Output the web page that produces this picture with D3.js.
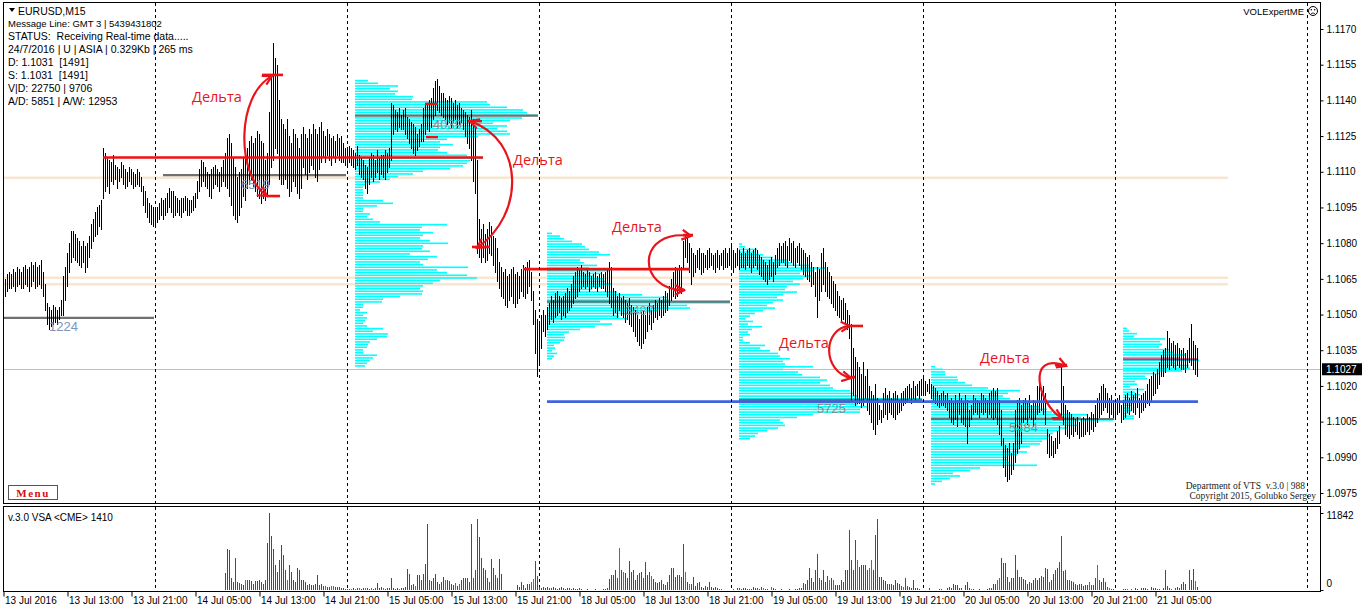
<!DOCTYPE html>
<html><head><meta charset="utf-8">
<script src="https://cdn.jsdelivr.net/npm/d3@7"></script>
<style>body{margin:0;background:#fff;}svg{display:block;font-family:"Liberation Sans",Arial,sans-serif;}text{white-space:pre;}</style>
</head><body><svg id="c" width="1362" height="612"></svg>
<script>
// ---------- DATA ----------
const timeLabels = ["13 Jul 2016","13 Jul 13:00","13 Jul 21:00","14 Jul 05:00","14 Jul 13:00","14 Jul 21:00","15 Jul 05:00","15 Jul 13:00","15 Jul 21:00","18 Jul 05:00","18 Jul 13:00","18 Jul 21:00","19 Jul 05:00","19 Jul 13:00","19 Jul 21:00","20 Jul 05:00","20 Jul 13:00","20 Jul 21:00","21 Jul 05:00"];
const timeLabelBars = [0,32,64,96,128,160,192,224,256,288,320,352,384,416,448,480,512,544,576];
const priceTicks = [1.0975,1.0990,1.1005,1.1020,1.1035,1.1050,1.1065,1.1080,1.1095,1.1110,1.1125,1.1140,1.1155,1.1170];
const lastPrice = 1.1027;
const volumeTicks = [0, 11842];
const daySeparators = [76,172,268,364,460,556,652];

const highs = [
1.1066,1.1065,1.1067,1.1068,1.1067,1.1069,1.1068,1.1070,1.1069,1.1068,
1.1070,1.1071,1.1069,1.1070,1.1072,1.1071,1.1072,1.1070,1.1071,1.1073,
1.1068,1.1063,1.1055,1.1053,1.1052,1.1054,1.1053,1.1052,1.1053,1.1056,
1.1066,1.1070,1.1076,1.1080,1.1085,1.1085,1.1084,1.1082,1.1081,1.1079,
1.1081,1.1079,1.1080,1.1083,1.1088,1.1090,1.1093,1.1095,1.1096,1.1098,
1.1120,1.1118,1.1116,1.1115,1.1114,1.1117,1.1113,1.1112,1.1111,1.1114,
1.1113,1.1111,1.1110,1.1112,1.1111,1.1110,1.1109,1.1111,1.1110,1.1108,
1.1104,1.1102,1.1099,1.1097,1.1096,1.1095,1.1094,1.1095,1.1097,1.1099,
1.1098,1.1099,1.1101,1.1103,1.1102,1.1102,1.1100,1.1099,1.1098,1.1099,
1.1099,1.1100,1.1099,1.1098,1.1098,1.1100,1.1101,1.1106,1.1111,1.1115,
1.1114,1.1112,1.1110,1.1109,1.1111,1.1112,1.1113,1.1111,1.1110,1.1112,
1.1115,1.1118,1.1124,1.1126,1.1122,1.1116,1.1112,1.1108,1.1110,1.1111,
1.1116,1.1118,1.1120,1.1123,1.1125,1.1122,1.1124,1.1127,1.1126,1.1123,
1.1122,1.1115,1.1118,1.1135,1.1150,1.1164,1.1158,1.1155,1.1140,1.1132,
1.1130,1.1128,1.1132,1.1125,1.1122,1.1128,1.1126,1.1124,1.1120,1.1126,
1.1129,1.1126,1.1124,1.1128,1.1126,1.1130,1.1128,1.1126,1.1129,1.1131,
1.1127,1.1125,1.1128,1.1126,1.1124,1.1125,1.1123,1.1126,1.1124,1.1125,
1.1122,1.1120,1.1119,1.1121,1.1120,1.1119,1.1118,1.1121,1.1117,1.1116,
1.1115,1.1113,1.1112,1.1116,1.1118,1.1117,1.1115,1.1119,1.1116,1.1117,
1.1117,1.1119,1.1118,1.1120,1.1139,1.1138,1.1136,1.1135,1.1137,1.1134,
1.1136,1.1137,1.1133,1.1132,1.1131,1.1130,1.1129,1.1126,1.1128,1.1130,
1.1137,1.1139,1.1138,1.1140,1.1141,1.1145,1.1148,1.1149,1.1146,1.1143,
1.1143,1.1141,1.1140,1.1142,1.1141,1.1139,1.1140,1.1138,1.1139,1.1137,
1.1136,1.1135,1.1134,1.1133,1.1136,1.1132,1.1129,1.1115,1.1090,1.1086,
1.1088,1.1084,1.1086,1.1089,1.1087,1.1083,1.1082,1.1078,1.1072,1.1070,
1.1068,1.1069,1.1066,1.1067,1.1069,1.1070,1.1067,1.1068,1.1066,1.1069,
1.1071,1.1070,1.1072,1.1073,1.1068,1.1060,1.1052,1.1048,1.1046,1.1050,
1.1052,1.1050,1.1053,1.1055,1.1058,1.1056,1.1059,1.1060,1.1058,1.1057,
1.1058,1.1059,1.1061,1.1060,1.1063,1.1066,1.1068,1.1070,1.1069,1.1071,
1.1068,1.1067,1.1069,1.1068,1.1066,1.1067,1.1068,1.1066,1.1067,1.1068,
1.1067,1.1068,1.1069,1.1072,1.1070,1.1061,1.1060,1.1058,1.1059,1.1057,
1.1058,1.1056,1.1055,1.1057,1.1054,1.1053,1.1052,1.1050,1.1048,1.1051,
1.1052,1.1050,1.1053,1.1055,1.1052,1.1054,1.1056,1.1055,1.1057,1.1056,
1.1058,1.1060,1.1059,1.1062,1.1065,1.1068,1.1070,1.1069,1.1071,1.1070,
1.1081,1.1083,1.1082,1.1080,1.1078,1.1076,1.1075,1.1077,1.1078,1.1076,
1.1076,1.1075,1.1077,1.1078,1.1076,1.1075,1.1076,1.1077,1.1075,1.1076,
1.1077,1.1078,1.1076,1.1078,1.1079,1.1077,1.1076,1.1078,1.1077,1.1076,
1.1078,1.1076,1.1077,1.1078,1.1076,1.1077,1.1078,1.1077,1.1075,1.1074,
1.1073,1.1072,1.1071,1.1073,1.1074,1.1072,1.1075,1.1078,1.1080,1.1079,
1.1080,1.1081,1.1079,1.1082,1.1080,1.1081,1.1078,1.1079,1.1080,1.1078,
1.1077,1.1076,1.1074,1.1075,1.1072,1.1070,1.1068,1.1070,1.1069,1.1076,
1.1078,1.1072,1.1070,1.1068,1.1066,1.1064,1.1063,1.1060,1.1058,1.1056,
1.1057,1.1055,1.1052,1.1050,1.1046,1.1036,1.1032,1.1030,1.1028,1.1025,
1.1030,1.1024,1.1027,1.1020,1.1018,1.1016,1.1021,1.1015,1.1012,1.1010,
1.1017,1.1019,1.1016,1.1018,1.1015,1.1017,1.1018,1.1016,1.1014,1.1017,
1.1018,1.1019,1.1020,1.1021,1.1019,1.1022,1.1020,1.1021,1.1022,1.1023,
1.1024,1.1022,1.1021,1.1023,1.1021,1.1020,1.1019,1.1018,1.1016,1.1017,
1.1018,1.1016,1.1017,1.1014,1.1015,1.1013,1.1016,1.1014,1.1017,1.1015,
1.1013,1.1016,1.1014,1.1010,1.1012,1.1016,1.1015,1.1014,1.1013,1.1017,
1.1016,1.1015,1.1014,1.1017,1.1018,1.1019,1.1018,1.1019,1.1014,1.1010,
1.0998,1.0995,1.0994,1.0996,1.0992,1.0996,1.1010,1.1014,1.1015,1.1012,
1.1014,1.1015,1.1013,1.1016,1.1012,1.1014,1.1013,1.1020,1.1021,1.1019,
1.1020,1.1017,1.1002,1.1000,1.0999,1.0997,1.0998,1.1001,1.1003,1.1028,
1.1020,1.1012,1.1010,1.1009,1.1008,1.1007,1.1006,1.1007,1.1005,1.1006,
1.1007,1.1006,1.1008,1.1007,1.1009,1.1008,1.1012,1.1015,1.1017,1.1020,
1.1021,1.1019,1.1017,1.1015,1.1016,1.1014,1.1013,1.1015,1.1016,1.1012,
1.1014,1.1016,1.1017,1.1015,1.1018,1.1016,1.1017,1.1019,1.1015,1.1016,
1.1017,1.1018,1.1021,1.1023,1.1024,1.1026,1.1025,1.1027,1.1030,1.1033,
1.1035,1.1036,1.1043,1.1040,1.1038,1.1039,1.1037,1.1038,1.1036,1.1035,
1.1036,1.1034,1.1035,1.1040,1.1046,1.1039,1.1037,1.1036];

const lows = [
1.1057,1.1058,1.1060,1.1061,1.1061,1.1062,1.1060,1.1062,1.1063,1.1061,
1.1061,1.1063,1.1062,1.1060,1.1062,1.1064,1.1061,1.1062,1.1063,1.1061,
1.1058,1.1052,1.1046,1.1044,1.1045,1.1046,1.1047,1.1046,1.1048,1.1050,
1.1050,1.1056,1.1062,1.1068,1.1072,1.1074,1.1073,1.1072,1.1071,1.1070,
1.1072,1.1068,1.1070,1.1074,1.1078,1.1081,1.1083,1.1084,1.1087,1.1086,
1.1099,1.1102,1.1104,1.1101,1.1106,1.1105,1.1107,1.1103,1.1106,1.1108,
1.1105,1.1103,1.1104,1.1106,1.1105,1.1103,1.1104,1.1105,1.1104,1.1102,
1.1096,1.1093,1.1091,1.1089,1.1088,1.1087,1.1088,1.1089,1.1090,1.1092,
1.1090,1.1092,1.1093,1.1095,1.1093,1.1091,1.1092,1.1093,1.1092,1.1091,
1.1093,1.1094,1.1092,1.1092,1.1093,1.1094,1.1095,1.1099,1.1102,1.1104,
1.1106,1.1104,1.1103,1.1100,1.1099,1.1103,1.1105,1.1104,1.1102,1.1104,
1.1106,1.1104,1.1103,1.1100,1.1096,1.1092,1.1090,1.1089,1.1092,1.1095,
1.1100,1.1098,1.1103,1.1105,1.1107,1.1104,1.1102,1.1100,1.1099,1.1097,
1.1099,1.1098,1.1100,1.1105,1.1112,1.1115,1.1120,1.1118,1.1107,1.1105,
1.1105,1.1107,1.1103,1.1100,1.1102,1.1106,1.1104,1.1101,1.1099,1.1103,
1.1112,1.1109,1.1107,1.1110,1.1113,1.1111,1.1108,1.1106,1.1111,1.1114,
1.1116,1.1114,1.1117,1.1115,1.1113,1.1116,1.1114,1.1117,1.1115,1.1114,
1.1114,1.1113,1.1112,1.1114,1.1113,1.1112,1.1111,1.1113,1.1109,1.1108,
1.1107,1.1103,1.1101,1.1105,1.1108,1.1106,1.1108,1.1110,1.1107,1.1109,
1.1108,1.1107,1.1110,1.1112,1.1115,1.1126,1.1128,1.1127,1.1129,1.1128,
1.1128,1.1126,1.1124,1.1122,1.1120,1.1118,1.1117,1.1119,1.1121,1.1123,
1.1123,1.1126,1.1128,1.1127,1.1129,1.1132,1.1134,1.1136,1.1135,1.1134,
1.1133,1.1132,1.1130,1.1131,1.1129,1.1131,1.1132,1.1129,1.1130,1.1131,
1.1128,1.1125,1.1122,1.1120,1.1115,1.1106,1.1101,1.1076,1.1074,1.1072,
1.1074,1.1072,1.1073,1.1076,1.1075,1.1071,1.1068,1.1064,1.1061,1.1058,
1.1057,1.1054,1.1053,1.1056,1.1058,1.1055,1.1053,1.1055,1.1057,1.1060,
1.1058,1.1057,1.1059,1.1062,1.1056,1.1046,1.1034,1.1024,1.1030,1.1036,
1.1043,1.1041,1.1044,1.1046,1.1048,1.1047,1.1049,1.1050,1.1051,1.1048,
1.1050,1.1049,1.1051,1.1052,1.1053,1.1055,1.1057,1.1058,1.1060,1.1061,
1.1062,1.1061,1.1062,1.1060,1.1061,1.1062,1.1061,1.1060,1.1062,1.1061,
1.1061,1.1060,1.1058,1.1055,1.1053,1.1050,1.1051,1.1049,1.1052,1.1050,
1.1049,1.1047,1.1048,1.1046,1.1045,1.1043,1.1041,1.1039,1.1037,1.1036,
1.1038,1.1040,1.1043,1.1046,1.1044,1.1047,1.1049,1.1048,1.1050,1.1049,
1.1050,1.1051,1.1052,1.1054,1.1056,1.1058,1.1057,1.1058,1.1060,1.1059,
1.1070,1.1074,1.1072,1.1068,1.1063,1.1066,1.1068,1.1070,1.1069,1.1067,
1.1068,1.1070,1.1069,1.1070,1.1071,1.1069,1.1068,1.1070,1.1069,1.1071,
1.1069,1.1070,1.1070,1.1071,1.1069,1.1068,1.1070,1.1071,1.1069,1.1070,
1.1070,1.1069,1.1071,1.1070,1.1068,1.1070,1.1071,1.1069,1.1067,1.1066,
1.1065,1.1064,1.1063,1.1065,1.1066,1.1064,1.1067,1.1070,1.1071,1.1072,
1.1072,1.1071,1.1070,1.1073,1.1072,1.1071,1.1070,1.1072,1.1071,1.1069,
1.1067,1.1066,1.1065,1.1064,1.1062,1.1063,1.1058,1.1049,1.1056,1.1060,
1.1063,1.1060,1.1058,1.1057,1.1055,1.1053,1.1052,1.1050,1.1049,1.1047,
1.1048,1.1046,1.1044,1.1040,1.1014,1.1016,1.1012,1.1013,1.1013,1.1011,
1.1012,1.1015,1.1010,1.1008,1.1005,1.1002,1.1000,1.1004,1.1006,1.1005,
1.1007,1.1008,1.1006,1.1009,1.1008,1.1007,1.1006,1.1008,1.1009,1.1010,
1.1012,1.1013,1.1014,1.1015,1.1013,1.1015,1.1014,1.1016,1.1015,1.1016,
1.1017,1.1016,1.1018,1.1017,1.1015,1.1014,1.1013,1.1012,1.1011,1.1012,
1.1012,1.1011,1.1010,1.1007,1.1005,1.1004,1.1006,1.1003,1.1008,1.1005,
1.1004,1.1003,1.0996,1.1003,1.1006,1.1008,1.1009,1.1008,1.1007,1.1009,
1.1008,1.1009,1.1007,1.1008,1.1007,1.1006,1.1007,1.1004,1.1000,1.0995,
1.0986,1.0982,1.0980,1.0981,1.0983,1.0985,1.0988,1.0992,1.0994,1.0996,
1.1005,1.1006,1.1004,1.1007,1.1006,1.1003,1.1006,1.1008,1.1009,1.1010,
1.1008,1.1004,1.0992,1.0990,1.0991,1.0990,1.0992,1.0994,1.0996,1.1006,
1.1004,1.1000,1.0999,1.0998,1.1000,1.0999,1.1001,1.1000,1.0998,1.0999,
1.0999,1.1000,1.1001,1.1000,1.1002,1.1001,1.1003,1.1005,1.1007,1.1008,
1.1010,1.1011,1.1009,1.1007,1.1008,1.1007,1.1006,1.1008,1.1009,1.1005,
1.1006,1.1007,1.1009,1.1008,1.1010,1.1009,1.1008,1.1011,1.1007,1.1009,
1.1010,1.1011,1.1013,1.1012,1.1014,1.1016,1.1017,1.1019,1.1021,1.1024,
1.1024,1.1026,1.1028,1.1027,1.1029,1.1028,1.1027,1.1029,1.1028,1.1027,
1.1027,1.1026,1.1028,1.1030,1.1029,1.1027,1.1025,1.1024];

const volumeStartBar = 111;
const volumes = [
2620,6310,6160,1850,1230,4930,1230,1080,920,770,1540,1540,1540,1390,920,1390,1390,1540,1230,920,
1540,7240,11842,8320,6310,3850,2770,4620,6930,5390,3080,1540,3850,2770,1540,1230,3390,3080,1540,1540,
1230,770,920,770,770,920,2310,770,920,620,620,460,460,620,620,460,460,460,310,310,150,150,150,
150,310,150,310,310,150,310,310,310,150,310,150,310,1080,310,460,310,150,310,310,
1850,310,150,310,150,310,310,460,3230,2460,770,920,620,2310,2310,1540,2460,4000,10160,1540,
1390,1850,2460,1230,920,1230,2000,1540,1540,1390,920,770,1080,620,920,1540,1850,1850,1850,1230,
10160,1850,3080,10930,8160,4930,3390,3080,1850,1230,4770,3390,2310,1850,4770,2460,0,0,0,0,
0,0,0,770,460,1230,770,310,920,920,1230,1690,4470,2160,
460,310,460,310,460,310,310,460,310,150,310,460,310,150,310,310,150,310,150,150,310,
150,0,0,150,0,0,0,150,0,0,0,150,
150,310,1690,2310,2310,3080,1850,6470,3080,2770,2620,1850,4470,2770,3080,1540,2310,2620,2770,1850,
4310,2310,2770,2160,1690,1230,1080,1230,1540,920,770,1230,2310,3390,3390,2000,2310,2310,2000,7080,
2770,1230,920,920,2000,620,1080,1230,460,310,620,460,1230,460,310,460,310,150,150,0,0,0,0,0,
150,0,310,310,150,310,310,150,150,150,460,310,310,150,460,310,150,150,0,460,
310,150,0,0,150,0,0,0,150,0,0,150,150,310,310,1080,920,1540,3390,1850,
1230,3080,5540,1850,1540,3080,1230,2160,1540,1850,1540,770,770,770,1540,1230,3080,3080,9240,4620,
3080,7700,4620,3540,3850,3850,3850,3080,3390,4620,3080,8470,10930,2000,2000,1540,1390,920,920,920,
770,1540,1080,920,620,460,1850,620,460,310,1540,310,310,150,0,0,
0,0,310,0,0,0,0,150,150,0,0,310,460,310,920,770,770,310,310,0,
770,1230,310,150,150,0,0,150,0,0,0,150,310,310,920,920,1540,1850,4930,4160,
4160,2000,1230,1850,1850,5390,3080,2000,2000,1690,1540,920,1230,1080,1540,1850,1540,1850,2160,2000,
3390,3230,1230,1540,2460,3080,3390,4310,8320,2930,3080,1540,1540,1390,1230,920,770,920,920,620,
770,770,1230,770,770,1850,3850,1540,1230,1850,1230,460,310,150,150,0,
0,0,0,150,150,150,0,150,0,310,150,0,310,310,310,150,0,460,310,310,
150,150,0,310,3080,620,310,150,0,310,460,310,920,1230,920,0,3080,1540,3230,1390,460];
// g = up bar (green), r = down bar (red), m = magenta
const volumeKinds = ("rggrrrggrrmgggrrggrgggggggrrrrrmrggrggggrrggrrgggrmrrmmrrgggrrg" +
 "mrmrmrrmrrmrrgrrmrrggrrrmrrrrrrrmgrgggggggggrgrmrggrmrmrggrrgrgrrrgrrggrrgggrggggggggrrrrrmmrrgr" +
 "ggrgrgrggrgrggrgrggrggggrggggggggggrggmgmgrggrrggrrrggmrggrgrrrgrgggrrrmgmrrgrgggrrgrrgrgmrmggggg" +
 "ggrrrrrrrrrgrmrrmmggrrggggggrggrrrrrggrgrrrggrmgmrgrgrgrrrrgmrgrgrmmgrrrgggrgggrgrrmrrgggrgrrrgg" +
 "gggggggrgggrrrrrrgrgrmgrgggrgggrrrmmgrrggrggrggrgrrgrgrgrgrrrrggrgrggrrgggrgrrggmrrgmrgrrgmrrrrg" +
 "gggmmrggggggrrrgggrgrggrgmrgggrgrgrggmrrr").split("");
const kindColors = {g: "#008000", r: "#ff0000", m: "#ff00ff"};

// volume profiles (relative volume per price level, top to bottom)
const profile15Jul = [13,23,43,35,43,40,58,57,132,135,152,168,172,182,167,155,138,152,142,152,155,123,92,85,98,85,83,92,112,128,115,112,108,95,68,58,43,35,25,10,8,8,8,8,8,28,38,22,8,8,15,12,18,25,92,67,65,78,68,65,75,93,68,67,75,55,82,73,65,68,113,82,92,112,122,85,78,68,65,68,67,45,28,27,8,8,5,12,8,12,10,8,12,28,18,33,32,22,15,13,12,8,8,22,18,15,12,10];
const profile18Jul = [5,13,17,25,35,38,42,52,63,50,33,37,50,42,62,55,47,57,58,65,55,45,70,95,120,123,183,140,143,110,93,72,80,53,65,48,33,22,17,18,17,13,7,8,5,10,7,5];
const profile19Jul = [3,6,18,16,24,34,48,53,71,86,74,61,73,64,54,61,48,46,58,44,38,44,34,28,36,24,16,11,6,14,9,23,13,9,11,4,4,11,26,21,31,39,41,51,44,46,74,44,59,63,81,88,81,91,94,111,114,118,183,164,119,128,121,121,74,58,41,44,46,39,28,19,16,11];
const profile20Jul = [4,12,14,14,26,27,34,41,57,89,77,72,79,96,99,109,116,121,156,150,182,142,146,136,129,122,119,117,111,109,99,89,96,86,77,76,79,106,49,39,22,29,19,11,4];
const profile21Jul = [4,6,14,11,42,37,39,36,46,51,62,57,76,52,66,67,59,36,22,24,12,14,7,21,12,17,14,11,11,9,6,9,7,11,11];
const profileDays = [172, 268, 364, 460, 556];
const profileTops = [1.11483, 1.10841, 1.10796, 1.10281, 1.10442];
const profileBottoms = [1.10284, 1.10314, 1.09978, 1.09788, 1.10062];

// POC levels per day
const pocDays = [-20, 76, 172, 268, 364, 460];
const pocPrices = [1.10486, 1.11086, 1.11336, 1.10554, 1.10141, 1.10061];
const pocLabels = ["1224", "6519", "4039", "3487", "5725", "5484"];
const pocLabelColors = ["#7d93b8", "#7d93b8", "#8c8c8c", "#8a93a8", "#8c8c8c", "#8c8c8c"];
const poc21Jul = 1.10312;
const blueLevel = 1.10134;
const beigeLevels = [1.11075, 1.10655, 1.10627];

// red levels: [fromBar, toBar, price]
const redLevels = [[50, 240, 1.1116], [260, 343.5, 1.10691]];
const redMarks = [[129.5,140,1.11507],[132,138.5,1.10998],[211,217.5,1.11385],[211.5,217.5,1.11246],[232.5,239.5,1.11313],[234.5,243.5,1.10784],[340,345,1.10834],[335,341,1.10603],[422.5,430,1.10452],[423.5,426,1.10237],[526,532,1.10288],[525,530,1.10061]];
// "Дельта" arrows: [start, control1, control2, end] as [bar, price]
const deltaArrows = [
 [[134.5,1.11502],[116.5,1.11423],[116.5,1.11086],[132,1.10998]],
 [[233.5,1.11313],[261,1.11234],[261,1.10918],[237,1.1078]],
 [[344,1.1083],[316.5,1.10864],[316.5,1.10603],[340.5,1.10603]],
 [[423.5,1.10452],[409.5,1.10443],[409.5,1.10259],[424,1.10233]],
 [[531.5,1.10284],[511,1.10351],[517.5,1.1012],[529.5,1.10065]]];
const deltaLabels = [[94.5,1.11393],[255,1.11128],[304.5,1.10847],[388,1.10359],[488.5,1.10296]];

const infoLines = ["STATUS:  Receiving Real-time data.....","24/7/2016 | U | ASIA | 0.329Kb | 265 ms","D: 1.1031  [1491]","S: 1.1031  [1491]","V|D: 22750 | 9706","A/D: 5851 | A/W: 12953"];

// ---------- DRAW ----------
const svg = d3.select("#c");
const xS = d3.scaleLinear().domain([0, 658.5]).range([3, 1320]);
const yS = d3.scaleLinear().domain([1.0975, 1.1170]).range([493, 29]);
const vS = d3.scaleLinear().domain([0, 11842]).range([590, 513]);
const pS = d3.scaleLinear().domain([0, 100]).range([0, 100]);
const px = b => Math.round(xS(b)) + 0.5;
const RED = "#e8141c";

svg.append("rect").attr("width",1362).attr("height",612).attr("fill","#fff");
const defs = svg.append("defs");
defs.append("clipPath").attr("id","cm").append("rect").attr("x",3).attr("y",3).attr("width",1317).attr("height",500);
defs.append("marker").attr("id","ah").attr("viewBox","0 0 12 12").attr("refX",10).attr("refY",6)
  .attr("markerWidth",12).attr("markerHeight",12).attr("markerUnits","userSpaceOnUse").attr("orient","auto-start-reverse")
  .append("path").attr("d","M1,1 L10,6 L1,11").attr("fill","none").attr("stroke",RED).attr("stroke-width",2.2);

const g = svg.append("g").attr("clip-path","url(#cm)");

// beige levels
g.selectAll(".beige").data(beigeLevels).join("line")
  .attr("x1",xS(-2)).attr("x2",xS(612.5)).attr("y1",d=>yS(d)).attr("y2",d=>yS(d))
  .attr("stroke","#f7e6d2").attr("stroke-width",2.5);
// last price line
g.append("line").attr("x1",3).attr("x2",1320).attr("y1",Math.round(yS(lastPrice))+0.5).attr("y2",Math.round(yS(lastPrice))+0.5)
  .attr("stroke","#c0c0c0").attr("stroke-width",1);

// day separators
const sepG = svg.append("g").attr("stroke","#000").attr("stroke-dasharray","3,3").attr("stroke-width",1);
daySeparators.forEach(b => {
  sepG.append("line").attr("x1",px(b)).attr("x2",px(b)).attr("y1",3).attr("y2",503);
  sepG.append("line").attr("x1",px(b)).attr("x2",px(b)).attr("y1",507).attr("y2",591);
});

// profiles
const profiles = [profile15Jul, profile18Jul, profile19Jul, profile20Jul, profile21Jul];
profiles.forEach((vols, k) => {
  const n = vols.length;
  const lv = d3.scaleLinear().domain([0, n-1]).range([profileTops[k], profileBottoms[k]]);
  const x0 = xS(profileDays[k] + 4);
  g.append("g").selectAll("rect").data(vols).join("rect")
    .attr("x", x0).attr("width", d => pS(d))
    .attr("y", (d,i) => yS(lv(i)) - 0.8).attr("height", 1.6)
    .attr("fill", "#00ffff");
});

// POC lines
pocPrices.forEach((p, k) => {
  const yy = yS(p);
  g.append("line").attr("x1",xS(Math.max(0,pocDays[k]+4))).attr("x2",xS(pocDays[k]+95.5))
    .attr("y1",yy).attr("y2",yy).attr("stroke","#707070").attr("stroke-width",2.2);
});
g.append("line").attr("x1",xS(560)).attr("x2",xS(597.5)).attr("y1",yS(poc21Jul)).attr("y2",yS(poc21Jul))
  .attr("stroke","#d8336f").attr("stroke-width",2);

// price bars (high-low)
g.append("g").selectAll("rect").data(highs).join("rect")
  .attr("x",(d,i)=>Math.round(xS(i))).attr("width",1)
  .attr("y",d=>Math.round(yS(d))).attr("height",(d,i)=>Math.round(yS(lows[i])) - Math.round(yS(d)) + 1)
  .attr("fill","#000");

// blue level
g.append("line").attr("x1",xS(272)).attr("x2",xS(597.5)).attr("y1",yS(blueLevel)).attr("y2",yS(blueLevel))
  .attr("stroke","#3d63dd").attr("stroke-width",2.6);

// red levels & marks
g.selectAll(".rl").data(redLevels.concat(redMarks)).join("line")
  .attr("x1",d=>xS(d[0])).attr("x2",d=>xS(d[1])).attr("y1",d=>yS(d[2])).attr("y2",d=>yS(d[2]))
  .attr("stroke","#f01010").attr("stroke-width",2.6);

// POC labels
pocPrices.forEach((p,k) => {
  g.append("text").attr("x",xS(pocDays[k]+43)).attr("y",yS(p)+13.5).text(pocLabels[k])
    .attr("font-size",13).attr("fill",pocLabelColors[k]);
});

// delta arrows
deltaArrows.forEach(a => {
  const P = a.map(q => [xS(q[0]), yS(q[1])]);
  g.append("path").attr("d",`M${P[0]}C${P[1]} ${P[2]} ${P[3]}`)
    .attr("fill","none").attr("stroke",RED).attr("stroke-width",2.2)
    .attr("marker-start","url(#ah)").attr("marker-end","url(#ah)");
});
deltaLabels.forEach(d => {
  g.append("text").attr("x",xS(d[0])).attr("y",yS(d[1])).text("Дельта")
    .attr("font-size",14.5).attr("fill",RED).attr("font-family","'Open Sans','Liberation Sans',sans-serif");
});

// volume bars
svg.append("g").selectAll("rect").data(volumes).join("rect")
  .attr("x",(d,i)=>Math.round(xS(volumeStartBar+i))).attr("width",1)
  .attr("y",d=>Math.round(vS(d))).attr("height",d=>Math.round(vS(0)) - Math.round(vS(d)))
  .attr("fill",(d,i)=>{ const k = volumeKinds[i]; return k === "r" ? kindColors.r : (k === "m" ? kindColors.m : kindColors.g); });

// frames
svg.append("rect").attr("x",3.5).attr("y",2.5).attr("width",1317).attr("height",501)
  .attr("fill","none").attr("stroke","#000");
svg.append("rect").attr("x",3.5).attr("y",506.5).attr("width",1317).attr("height",85)
  .attr("fill","none").attr("stroke","#000");

// price axis
const pa = svg.append("g").attr("transform","translate(1320.5,0)")
  .call(d3.axisRight(yS).tickValues(priceTicks).tickSize(3).tickPadding(3).tickFormat(d3.format(".4f")));
pa.select(".domain").remove();
pa.selectAll("text").attr("font-size",10).attr("font-family","'Liberation Sans',Arial,sans-serif").attr("fill","#000");
pa.selectAll("line").attr("stroke","#000");
// last price box
svg.append("rect").attr("x",1322).attr("y",yS(lastPrice)-6).attr("width",40).attr("height",12).attr("fill","#000");
svg.append("text").attr("x",1326).attr("y",yS(lastPrice)).attr("dy","0.35em").text(d3.format(".4f")(lastPrice))
  .attr("font-size",10).attr("fill","#fff");

// volume axis
const va = svg.append("g").attr("transform","translate(1320.5,0)")
  .call(d3.axisRight(vS).tickValues(volumeTicks).tickSize(3).tickPadding(3).tickFormat(d3.format("d")));
va.select(".domain").remove();
va.selectAll("line").attr("stroke","#000");
va.selectAll("text").attr("font-size",10).attr("font-family","'Liberation Sans',Arial,sans-serif").attr("fill","#000")
  .attr("dy",(d)=> d===0 ? "-0.35em" : "0.5em");

// time axis
const ta = svg.append("g").attr("transform","translate(0,591.5)")
  .call(d3.axisBottom(xS).tickValues(timeLabelBars).tickSize(5).tickPadding(2).tickFormat((d,i)=>timeLabels[i]));
ta.select(".domain").remove();
ta.selectAll(".tick line").attr("stroke","#000").attr("transform","translate(0.5,0)");
ta.selectAll("text").attr("text-anchor","start").attr("dx","1.5").attr("dy","0.5em").attr("font-size",10)
  .attr("font-family","'Liberation Sans',Arial,sans-serif").attr("fill","#000");

// info block
svg.append("path").attr("d","M9,8 L15,8 L12,12 Z").attr("fill","#000");
svg.append("text").attr("x",18).attr("y",11).attr("dy","0.35em").text("EURUSD,M15").attr("font-size",10.5);
svg.append("text").attr("x",8).attr("y",24).attr("dy","0.35em").text("Message Line: GMT 3 | 5439431802").attr("font-size",9.5);
infoLines.forEach((t,i) => svg.append("text").attr("x",8).attr("y",36+13*i).attr("dy","0.35em").text(t).attr("font-size",10.5));

svg.append("text").attr("x",1304).attr("y",12).attr("dy","0.35em").attr("text-anchor","end").text("VOLExpertME").attr("font-size",9.5);
svg.append("circle").attr("cx",1313).attr("cy",11).attr("r",4.5).attr("fill","none").attr("stroke","#000");
svg.append("circle").attr("cx",1311.3).attr("cy",9.8).attr("r",0.8).attr("fill","#000");
svg.append("circle").attr("cx",1314.7).attr("cy",9.8).attr("r",0.8).attr("fill","#000");
svg.append("path").attr("d","M1311,13.8 Q1313,12 1315,13.8").attr("fill","none").attr("stroke","#000").attr("stroke-width",0.8);

svg.append("text").attr("x",1305).attr("y",489).attr("text-anchor","end").text("Department of VTS  v.3.0 | 988")
  .attr("font-size",9.5).attr("font-family","'Liberation Serif',serif").attr("fill","#222");
svg.append("text").attr("x",1316).attr("y",499).attr("text-anchor","end").text("Copyright 2015, Golubko Sergey")
  .attr("font-size",9.5).attr("font-family","'Liberation Serif',serif").attr("fill","#222");

svg.append("rect").attr("x",8.5).attr("y",485.5).attr("width",49).attr("height",14).attr("fill","#fff").attr("stroke","#555");
svg.append("text").attr("x",33).attr("y",493).attr("dy","0.35em").attr("text-anchor","middle").text("Menu")
  .attr("font-size",11).attr("font-family","'Liberation Serif',serif").attr("font-weight","bold").attr("letter-spacing","1.5").attr("fill","#d01010");

svg.append("text").attr("x",8).attr("y",517).attr("dy","0.35em").text("v.3.0 VSA <CME> 1410").attr("font-size",10);
</script></body></html>
